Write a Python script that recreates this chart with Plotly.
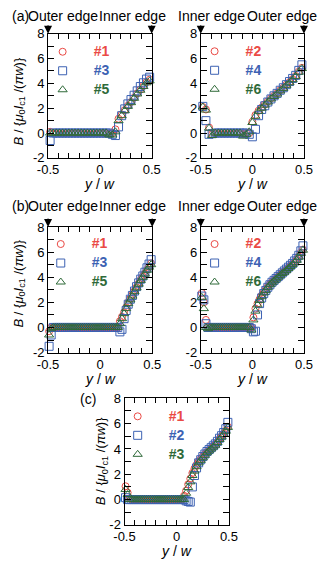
import plotly.graph_objects as go

W, H = 323, 565
FONT = "Liberation Sans, Arial, sans-serif"
RED, BLUE, GREEN = "#ea4a45", "#3d62b3", "#2f6a39"

# ---------------- data ----------------
x_a = [-0.48, -0.45, -0.42, -0.39, -0.36, -0.33, -0.30, -0.27, -0.24, -0.21, -0.18,
       -0.15, -0.12, -0.09, -0.06, -0.03, 0.00, 0.03, 0.06, 0.09, 0.12, 0.15,
       0.18, 0.21, 0.24, 0.27, 0.30, 0.33, 0.36, 0.39, 0.42, 0.45, 0.48]

# panel (a) left: #1, #3, #5
a1 = [0.10, 0.00, 0.00, 0.00, 0.00, 0.00, 0.00, 0.00, 0.00, 0.00, 0.00,
      0.00, 0.00, 0.00, 0.00, 0.00, 0.00, 0.00, 0.00, -0.05, 0.00, 0.30,
      1.15, 1.50, 1.85, 2.20, 2.50, 2.85, 3.20, 3.50, 3.80, 4.10, 4.30]
a3 = [-0.60, 0.00, 0.00, 0.00, 0.00, 0.00, 0.00, 0.00, 0.00, 0.00, 0.00,
      0.00, 0.00, 0.00, 0.00, 0.00, 0.00, 0.00, 0.00, 0.00, -0.10, -0.20,
      0.50, 1.40, 1.95, 2.35, 2.70, 3.05, 3.40, 3.75, 4.05, 4.35, 4.50]
a5 = [0.00, 0.00, 0.00, 0.00, 0.00, 0.00, 0.00, 0.00, 0.00, 0.00, 0.00,
      0.00, 0.00, 0.00, 0.00, 0.00, 0.00, 0.00, 0.00, -0.15, -0.15, 0.10,
      1.00, 1.40, 1.80, 2.15, 2.45, 2.80, 3.15, 3.45, 3.75, 4.05, 4.20]

# panel (a) right: #2, #4, #6
a2 = [2.10, 1.90, 0.45, -0.10, 0.00, 0.00, 0.00, 0.00, 0.00, 0.00, 0.00,
      0.00, 0.00, -0.10, 0.00, 0.00, 0.90, 1.45, 1.80, 2.05, 2.30, 2.55,
      2.80, 3.00, 3.20, 3.45, 3.65, 3.90, 4.10, 4.35, 4.60, 4.95, 5.25]
a4 = [2.15, 1.00, -0.10, -0.05, 0.00, 0.00, 0.00, 0.00, 0.00, 0.00, 0.00,
      0.00, 0.00, 0.00, 0.00, -0.10, -0.30, 0.30, 1.40, 1.90, 2.20, 2.50,
      2.75, 3.00, 3.20, 3.45, 3.65, 3.90, 4.15, 4.40, 4.65, 5.05, 5.50]
a6 = [2.10, 1.85, 0.40, -0.20, 0.00, 0.00, 0.00, 0.00, 0.00, 0.00, 0.00,
      0.00, 0.00, -0.25, -0.10, 0.10, 0.85, 1.35, 1.75, 2.00, 2.25, 2.50,
      2.75, 2.95, 3.15, 3.40, 3.60, 3.85, 4.05, 4.30, 4.55, 4.90, 5.20]

x_b = [-0.49, -0.47, -0.45, -0.43, -0.41, -0.39, -0.37, -0.35, -0.33, -0.31,
       -0.29, -0.27, -0.25, -0.23, -0.21, -0.19, -0.17, -0.15, -0.13, -0.11,
       -0.09, -0.07, -0.05, -0.03, -0.01, 0.01, 0.03, 0.05, 0.07, 0.09,
       0.11, 0.13, 0.15, 0.17, 0.19, 0.21, 0.23, 0.25, 0.27, 0.29,
       0.31, 0.33, 0.35, 0.37, 0.39, 0.41, 0.43, 0.45, 0.47, 0.49]

# panel (b) left: #1, #3, #5
b1 = [-0.30, 0.00, 0.00, 0.00, 0.00, 0.00, 0.00, 0.00, 0.00, 0.00,
      0.00, 0.00, 0.00, 0.00, 0.00, 0.00, 0.00, 0.00, 0.00, 0.00,
      0.00, 0.00, 0.00, 0.00, 0.00, 0.00, 0.00, 0.00, 0.00, 0.00,
      0.00, 0.00, 0.00, 0.00, 0.50, 0.85, 1.20, 1.60, 2.00, 2.30,
      2.60, 2.90, 3.20, 3.50, 3.80, 4.05, 4.30, 4.60, 4.85, 5.10]
b3 = [-1.50, -0.60, 0.00, 0.00, 0.00, 0.00, 0.00, 0.00, 0.00, 0.00,
      0.00, 0.00, 0.00, 0.00, 0.00, 0.00, 0.00, 0.00, 0.00, 0.00,
      0.00, 0.00, 0.00, 0.00, 0.00, 0.00, 0.00, 0.00, 0.00, 0.00,
      0.00, 0.00, 0.00, 0.00, -0.35, -0.15, 0.70, 1.35, 1.85, 2.25,
      2.55, 2.90, 3.25, 3.55, 3.85, 4.10, 4.40, 4.75, 5.05, 5.40]
b5 = [-0.60, -0.10, 0.00, 0.00, 0.00, 0.00, 0.00, 0.00, 0.00, 0.00,
      0.00, 0.00, 0.00, 0.00, 0.00, 0.00, 0.00, 0.00, 0.00, 0.00,
      0.00, 0.00, 0.00, 0.00, 0.00, 0.00, 0.00, 0.00, 0.00, 0.00,
      0.00, 0.00, 0.00, 0.00, 0.30, 0.70, 1.10, 1.50, 1.90, 2.20,
      2.50, 2.85, 3.15, 3.45, 3.75, 4.00, 4.25, 4.55, 4.80, 5.00]

# panel (b) right: #2, #4, #6
b2 = [2.75, 2.00, 0.60, 0.00, 0.00, 0.00, 0.00, 0.00, 0.00, 0.00,
      0.00, 0.00, 0.00, 0.00, 0.00, 0.00, 0.00, 0.00, 0.00, 0.00,
      0.00, 0.00, 0.00, 0.00, 0.00, 0.80, 1.50, 1.90, 2.25, 2.55,
      2.80, 3.05, 3.25, 3.45, 3.60, 3.75, 3.90, 4.05, 4.20, 4.35,
      4.45, 4.60, 4.75, 4.90, 5.05, 5.20, 5.40, 5.65, 5.95, 6.20]
b4 = [2.50, 2.20, 0.30, 0.00, 0.00, 0.00, 0.00, 0.00, 0.00, 0.00,
      0.00, 0.00, 0.00, 0.00, 0.00, 0.00, 0.00, 0.00, 0.00, 0.00,
      0.00, 0.00, 0.00, 0.00, -0.10, -0.35, -0.30, 1.00, 1.90, 2.35,
      2.70, 2.95, 3.20, 3.40, 3.60, 3.75, 3.90, 4.05, 4.20, 4.35,
      4.50, 4.65, 4.80, 4.95, 5.10, 5.30, 5.50, 5.75, 6.10, 6.50]
b6 = [2.40, 1.50, 0.00, -0.10, 0.00, 0.00, 0.00, 0.00, 0.00, 0.00,
      0.00, 0.00, 0.00, 0.00, 0.00, 0.00, 0.00, 0.00, 0.00, 0.00,
      0.00, 0.00, 0.00, 0.00, -0.20, 0.60, 1.30, 1.80, 2.15, 2.45,
      2.75, 2.95, 3.20, 3.40, 3.55, 3.70, 3.85, 4.00, 4.15, 4.30,
      4.40, 4.55, 4.70, 4.85, 5.00, 5.15, 5.35, 5.60, 5.90, 6.15]

# panel (c): #1, #2, #3
c1 = [1.05, 0.55, 0.10, 0.00, 0.00, 0.00, 0.00, 0.00, 0.00, 0.00,
      0.00, 0.00, 0.00, 0.00, 0.00, 0.00, 0.00, 0.00, 0.00, 0.00,
      0.00, 0.00, 0.00, 0.00, 0.00, 0.00, 0.00, 0.00, 0.30, 0.70,
      1.20, 1.65, 2.10, 2.45, 2.75, 3.00, 3.20, 3.40, 3.60, 3.75,
      3.90, 4.05, 4.20, 4.35, 4.55, 4.80, 5.00, 5.20, 5.45, 5.75]
c2 = [0.15, 0.00, 0.00, 0.00, 0.00, 0.00, 0.00, 0.00, 0.00, 0.00,
      0.00, 0.00, 0.00, 0.00, 0.00, 0.00, 0.00, 0.00, 0.00, 0.00,
      0.00, 0.00, 0.00, 0.00, 0.00, 0.00, 0.00, 0.00, 0.00, -0.10,
      -0.15, -0.20, 1.00, 1.90, 2.50, 2.90, 3.15, 3.40, 3.60, 3.80,
      3.95, 4.10, 4.25, 4.40, 4.60, 4.85, 5.05, 5.30, 5.60, 6.10]
c3 = [0.80, 0.40, 0.00, 0.00, 0.00, 0.00, 0.00, 0.00, 0.00, 0.00,
      0.00, 0.00, 0.00, 0.00, 0.00, 0.00, 0.00, 0.00, 0.00, 0.00,
      0.00, 0.00, 0.00, 0.00, 0.00, 0.00, 0.00, 0.00, 0.00, 0.50,
      0.95, 1.40, 1.90, 2.25, 2.60, 2.90, 3.10, 3.30, 3.50, 3.70,
      3.85, 4.00, 4.15, 4.30, 4.50, 4.75, 4.95, 5.15, 5.40, 5.70]

x_tickvals = [-0.5, -0.4, -0.3, -0.2, -0.1, 0.0, 0.1, 0.2, 0.3, 0.4, 0.5]
x_ticktext = ["-0.5", "", "", "", "", "0", "", "", "", "", "0.5"]
y_tickvals = [-2, -1, 0, 1, 2, 3, 4, 5, 6, 7, 8]
y_ticktext = ["-2", "", "0", "", "2", "", "4", "", "6", "", "8"]

# ---------------- layout helpers ----------------
def px(x):
    return x / W

def py(y):
    return 1 - y / H

panels = [
    ("", 39.5, 150.0, 27.5, 155.0, x_a, (a1, a3, a5), ("#1", "#3", "#5")),
    ("2", 202.3, 312.3, 27.5, 155.0, x_a, (a2, a4, a6), ("#2", "#4", "#6")),
    ("3", 39.5, 150.5, 226.0, 355.0, x_b, (b1, b3, b5), ("#1", "#3", "#5")),
    ("4", 202.3, 312.3, 226.0, 355.0, x_b, (b2, b4, b6), ("#2", "#4", "#6")),
    ("5", 121.0, 232.3, 402.0, 532.0, x_b, (c1, c2, c3), ("#1", "#2", "#3")),
]
symbols = ["circle-open", "square-open", "triangle-up-open"]
colors = [RED, BLUE, GREEN]
sizes = [7, 8, 8]

fig = go.Figure()
layout = dict(width=W, height=H, margin=dict(l=0, r=0, t=0, b=0), autosize=False,
              paper_bgcolor="white", plot_bgcolor="white",
              font=dict(family=FONT, size=13, color="black"), showlegend=True)

annotations = []
legend_pos = {"": (22, 65.5), "2": (184, 65), "3": (20, 263), "4": (184, 263), "5": (102, 440)}

for i, (sfx, x0, x1, yt, yb, xs, series, names) in enumerate(panels):
    legname = "legend" + ("" if i == 0 else str(i + 1))
    for k in range(3):
        fig.add_trace(go.Scatter(
            x=xs, y=series[k], mode="markers", cliponaxis=False,
            xaxis="x" + sfx, yaxis="y" + sfx,
            marker=dict(symbol=symbols[k], size=sizes[k], color=colors[k],
                        line=dict(width=1, color=colors[k])),
            name='<span style="color:%s;font-size:14px"><b>%s</b></span>' % (colors[k], names[k]),
            legend=legname,
        ))
    lx, ly = legend_pos[sfx]
    layout[legname] = dict(x=px(lx), y=py(ly), xanchor="left", yanchor="middle",
                           bgcolor="rgba(0,0,0,0)", borderwidth=0, itemwidth=52,
                           font=dict(family=FONT, size=11), tracegroupgap=0)
    common = dict(showline=True, linecolor="black", linewidth=1, mirror="ticks",
                  ticks="inside", tickcolor="black", tickwidth=1,
                  showgrid=False, zeroline=False,
                  tickfont=dict(family=FONT, size=13, color="black"))
    xa = dict(common, domain=[px(x0), px(x1)], range=[-0.5, 0.5],
              tickvals=x_tickvals, ticktext=x_ticktext, ticklen=5,
              anchor="y" + sfx)
    ya = dict(common, domain=[py(yb), py(yt)], range=[-2, 8],
              tickvals=y_tickvals, ticktext=y_ticktext, ticklen=6,
              anchor="x" + sfx)
    layout["xaxis" + sfx] = xa
    layout["yaxis" + sfx] = ya
    annotations.append(dict(text="<i>y</i> / <i>w</i>", xref="paper", yref="paper",
                            x=px((x0 + x1) / 2), y=py(yb + 27), xanchor="center",
                            yanchor="middle", showarrow=False,
                            font=dict(family=FONT, size=14)))

ytitle = "<i>B</i> / {<i>μ</i><sub>0</sub><i>I</i><sub>c1</sub> /(<i>πw</i>)}"
for (xc, yc) in [(8.5, 97), (8.5, 284), (96.5, 467)]:
    annotations.append(dict(text=ytitle, xref="paper", yref="paper", x=px(xc), y=py(yc),
                            xanchor="center", yanchor="middle", textangle=-90,
                            showarrow=False, font=dict(family=FONT, size=13)))

def lab(text, xc, yc, anchor="center"):
    annotations.append(dict(text=text, xref="paper", yref="paper", x=px(xc), y=py(yc),
                            xanchor=anchor, yanchor="middle", showarrow=False,
                            borderpad=0, font=dict(family=FONT, size=14)))

for yrow, tag in [(9, "(a)"), (204.5, "(b)")]:
    lab(tag, 0, yrow, "left")
    lab("Outer edge", 55, yrow)
    lab("Inner edge", 130, yrow)
    lab("Inner edge", 214, yrow)
    lab("Outer edge", 288.5, yrow)
lab("(c)", 72, 402.5, "left")

for sfx in ["", "2", "3", "4"]:
    for xv in [-0.5, 0.5]:
        annotations.append(dict(text="", xref="x" + sfx, yref="y" + sfx, x=xv, y=8,
                                ax=0, ay=-10, showarrow=True, arrowhead=2,
                                arrowsize=1.6, arrowwidth=1, arrowcolor="black"))

layout["annotations"] = annotations
fig.update_layout(**layout)
fig.write_html("out.html", config={"displayModeBar": False},
               post_script="document.body.style.margin='0px';document.body.style.padding='0px';")
